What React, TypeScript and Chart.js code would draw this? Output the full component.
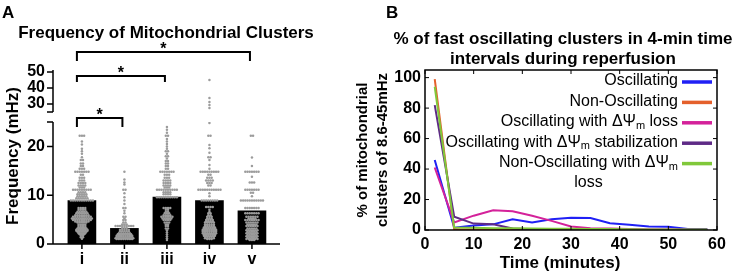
import React, { useEffect, useRef } from "react";
import { Chart, registerables } from "chart.js";

Chart.register(...registerables);

const FONT_FAMILY = "'Liberation Sans', Arial, Helvetica, sans-serif";

// ---------------- Panel A data ----------------
const groupLabels = ["i", "ii", "iii", "iv", "v"];
const groupMeans = [8.9, 3.2, 9.6, 8.9, 6.8];
// [frequency (mHz), number of clusters with that frequency]
const swarmI: [number, number][] = [
  [22.2, 3], [21, 1], [20.4, 1], [19.5, 1], [19, 1], [18.5, 1], [17.8, 1], [17.2, 2], [16.5, 2], [16, 2],
  [15.4, 3], [14.8, 7], [14.2, 2], [13.6, 3], [13, 3], [12.5, 4], [12, 4], [11.6, 3], [11.1, 9], [10.6, 4],
  [10.2, 5], [9.8, 5], [9.4, 6], [8.9, 11], [7.4, 4], [7, 4], [6.6, 5], [6.3, 6], [5.9, 7], [5.6, 9],
  [5.2, 10], [4.9, 9], [4.6, 7], [4.4, 5], [4, 4], [3.7, 4], [3.4, 4], [3.2, 5], [2.9, 6], [2.7, 6],
  [2.5, 5], [2.2, 4], [2, 3], [1.7, 2], [1.4, 2], [1.1, 1],
];
const swarmII: [number, number][] = [
  [14.8, 1], [13.2, 1], [12.6, 1], [12.2, 1], [11.1, 2], [10.4, 1], [9.6, 1], [8.9, 1], [8.2, 1], [7.4, 2],
  [6.8, 1], [6.3, 1], [5.6, 2], [5.2, 1], [4.9, 2], [4.4, 2], [4, 3], [3.7, 9], [3.3, 3], [2.9, 5],
  [2.6, 5], [2.2, 6], [2, 7], [1.7, 8], [1.5, 8], [1.2, 9], [1, 8],
];
const swarmIII: [number, number][] = [
  [24, 1], [23.4, 1], [22.8, 1], [22.2, 2], [21.5, 1], [21, 1], [20.5, 1], [20, 1], [19.5, 1], [19, 2],
  [18.5, 1], [18, 2], [17.5, 1], [17, 2], [16.5, 2], [16, 2], [15.4, 2], [14.8, 7], [14.2, 3], [13.6, 3],
  [13, 4], [12.5, 4], [12, 4], [11.6, 3], [11.1, 10], [10.6, 4], [10.2, 4], [9.6, 10], [7.4, 4], [7, 2],
  [6.6, 2], [6.3, 3], [5.9, 4], [5.6, 6], [5.2, 5], [4.9, 4], [4.4, 3], [4, 2], [3.7, 2], [3.2, 2],
  [2.8, 1], [2.4, 1], [2, 1], [1.6, 1], [1.2, 1], [0.8, 1],
];
const swarmIV: [number, number][] = [
  [45, 1], [33.8, 1], [31.3, 1], [29.4, 1], [27.5, 1],
  [24.8, 1], [22.2, 2], [20.3, 1], [19.6, 1], [18.7, 1], [17.8, 2], [17.2, 1], [16.2, 1], [15.4, 1], [14.8, 9],
  [14.2, 2], [13.6, 3], [13, 4], [12.5, 3], [12, 2], [11.1, 11], [10.4, 1], [9.8, 1], [8.9, 8], [7.6, 4],
  [7, 1], [6.6, 1], [6.3, 2], [5.9, 2], [5.6, 3], [5.2, 3], [4.9, 4], [4.6, 4], [4.4, 5], [4, 5],
  [3.7, 5], [3.4, 6], [3.2, 6], [2.9, 7], [2.7, 7], [2.5, 7], [2.2, 7], [2, 6], [1.7, 6], [1.5, 5],
  [1.2, 5], [1, 3],
];
const swarmV: [number, number][] = [
  [22.2, 2], [17.7, 1], [16, 1], [14.8, 7], [13.8, 1], [12.6, 3], [11.1, 7], [10.5, 2], [9.8, 1], [8.9, 11],
  [7.4, 7], [6.3, 7], [5.6, 6], [5.2, 4], [4.9, 7], [4.4, 6], [4, 5], [3.7, 6], [3.2, 5], [2.8, 6],
  [2.5, 5], [2.2, 6], [1.9, 5], [1.6, 6], [1.3, 5], [1, 6], [0.8, 3],
];
const swarms = [swarmI, swarmII, swarmIII, swarmIV, swarmV];
const lowerTicks = [0, 10, 20];
const upperTicks = [30, 40, 50];
const axisBreak = 25;
const upperMax = 51.3;
const comparisons: [number, number][] = [[1, 2], [1, 3], [1, 5]];
const significance = ["*", "*", "*"];

// ---------------- Panel B data ----------------
const timeMinutes = [2, 6, 10, 14, 18, 22, 26, 30, 34, 38, 42, 46, 50, 54, 58];
const oscillating = [46, 1.5, 3, 3.7, 7, 5, 7, 8, 7.8, 4.4, 3.5, 2.3, 2.2, 0.7, 0.7];
const nonOscillating = [99, 0.3, 0.3, 0.2, 0.2, 0.2, 0.1, 0.1, 0.1, 0.1, 0.1, 0.1, 0.1, 0.1, 0.1];
const oscillatingLoss = [41, 5, 9.4, 13, 12.3, 9.4, 6, 2.3, 1.1, 1, 0.6, 0.4, 0.3, 0.2, 0.2];
const oscillatingStab = [82, 8.7, 4.2, 3.7, 1, 0.5, 0.3, 0.2, 0.1, 0.1, 0, 0, 0, 0, 0];
const nonOscillatingLoss = [94, 1.6, 1.4, 1.2, 1.1, 1, 0.9, 0.8, 0.7, 0.6, 0.5, 0.4, 0.4, 0.3, 0.3];
const seriesValues = [oscillating, nonOscillating, oscillatingLoss, oscillatingStab, nonOscillatingLoss];
const seriesLabels = [
  "Oscillating",
  "Non-Oscillating",
  "Oscillating with ΔΨm loss",
  "Oscillating with ΔΨm stabilization",
  "Non-Oscillating with ΔΨm\nloss",
];
const seriesColors = ["#2020f5", "#e4602c", "#d4229a", "#5e2a86", "#80c83a"];
const timeTicks = [0, 10, 20, 30, 40, 50, 60];
const percentTicks = [0, 20, 40, 60, 80, 100];

const GRAY = "#9c9c9c";
const SWARM_STEP = 0.052;

function buildSwarm() {
  const low: { x: number; y: number }[] = [];
  const high: { x: number; y: number }[] = [];
  swarms.forEach((col, ci) => {
    col.forEach(([v, n]) => {
      for (let k = 0; k < n; k++) {
        const pt = { x: ci + 1 + (k - (n - 1) / 2) * SWARM_STEP, y: v };
        (v > axisBreak ? high : low).push(pt);
      }
    });
  });
  return { low, high };
}

function segmentsOf(line: string) {
  const segs: { t: string; sub: boolean }[] = [];
  line.split("ΔΨm").forEach((p, i) => {
    if (i > 0) {
      segs.push({ t: "ΔΨ", sub: false });
      segs.push({ t: "m", sub: true });
    }
    if (p) segs.push({ t: p, sub: false });
  });
  return segs;
}

function richWidth(ctx: CanvasRenderingContext2D, line: string, size: number, sub: number) {
  let w = 0;
  for (const s of segmentsOf(line)) {
    ctx.font = `${s.sub ? sub : size}px ${FONT_FAMILY}`;
    w += ctx.measureText(s.t).width;
  }
  return w;
}

function drawRich(ctx: CanvasRenderingContext2D, line: string, xLeft: number, y: number, size: number, sub: number) {
  let x = xLeft;
  ctx.textAlign = "left";
  ctx.textBaseline = "middle";
  for (const s of segmentsOf(line)) {
    ctx.font = `${s.sub ? sub : size}px ${FONT_FAMILY}`;
    ctx.fillText(s.t, x, s.sub ? y + 4 : y);
    x += ctx.measureText(s.t).width;
  }
}

const tickFont = { family: FONT_FAMILY, size: 16, weight: "bold" as const };

export default function App() {
  const leftRef = useRef<HTMLCanvasElement>(null);
  const rightRef = useRef<HTMLCanvasElement>(null);

  useEffect(() => {
    const { low, high } = buildSwarm();

    const panelAPlugin = {
      id: "panelA",
      afterDraw(chart: any) {
        const ctx: CanvasRenderingContext2D = chart.ctx;
        const xs = chart.scales.x;
        const yl = chart.scales.y;
        const yt = chart.scales.yTop;
        const { left: l, right: r, top } = chart.chartArea;
        ctx.save();
        ctx.fillStyle = "#000";
        ctx.strokeStyle = "#000";
        // axes (broken y axis)
        ctx.lineWidth = 1.5;
        ctx.beginPath();
        const y0 = yl.getPixelForValue(0);
        ctx.moveTo(l, y0);
        ctx.lineTo(l, yl.getPixelForValue(axisBreak));
        for (const v of [...lowerTicks, axisBreak]) {
          const py = yl.getPixelForValue(v);
          ctx.moveTo(l - 6, py);
          ctx.lineTo(l, py);
        }
        ctx.moveTo(l, yt.getPixelForValue(axisBreak));
        ctx.lineTo(l, yt.getPixelForValue(upperMax));
        for (const v of [axisBreak, ...upperTicks]) {
          const py = yt.getPixelForValue(v);
          ctx.moveTo(l - 6, py);
          ctx.lineTo(l, py);
        }
        ctx.moveTo(l - 0.75, y0);
        ctx.lineTo(r, y0);
        groupLabels.forEach((_, i) => {
          const px = xs.getPixelForValue(i + 1);
          ctx.moveTo(px, y0);
          ctx.lineTo(px, y0 + 5);
        });
        ctx.stroke();

        ctx.textBaseline = "middle";
        ctx.textAlign = "left";
        ctx.font = `bold 17px ${FONT_FAMILY}`;
        ctx.fillText("A", 2, 13);
        ctx.textAlign = "center";
        ctx.fillText("Frequency of Mitochondrial Clusters", 166, 33);
        ctx.save();
        ctx.translate(13, 156);
        ctx.rotate(-Math.PI / 2);
        ctx.fillText("Frequency (mHz)", 0, 0);
        ctx.restore();
        // significance brackets
        const levels = [top + 48, top + 6, top - 18];
        const legs = [9, 6, 9];
        ctx.lineWidth = 2;
        comparisons.forEach(([a, b], i) => {
          const x1 = xs.getPixelForValue(a) - 5;
          const x2 = xs.getPixelForValue(b) - 2;
          const y = levels[i];
          ctx.beginPath();
          ctx.moveTo(x1, y + legs[i]);
          ctx.lineTo(x1, y);
          ctx.lineTo(x2, y);
          ctx.lineTo(x2, y + legs[i]);
          ctx.stroke();
          ctx.font = `bold 16px ${FONT_FAMILY}`;
          ctx.textBaseline = "alphabetic";
          ctx.fillText(significance[i], (x1 + x2) / 2, y + 2);
        });
        ctx.restore();
      },
    };

    const yCommon = {
      type: "linear" as const,
      position: "left" as const,
      stack: "freq",
      afterFit: (s: any) => {
        s.width = 53;
      },
      grid: { display: false, drawTicks: false },
      border: { display: false },
      ticks: {
        font: tickFont,
        color: "#000",
        padding: 8,
        autoSkip: false,
        callback: (v: any) => (v === axisBreak ? "" : String(v)),
      },
    };

    const left = new Chart(leftRef.current!, {
      type: "bar",
      data: {
        datasets: [
          {
            type: "scatter",
            data: low,
            yAxisID: "y",
            backgroundColor: GRAY,
            pointRadius: 1.25,
            pointBorderWidth: 0,
            borderWidth: 0,
            order: 0,
          } as any,
          {
            type: "scatter",
            data: high,
            yAxisID: "yTop",
            backgroundColor: GRAY,
            pointRadius: 1.25,
            pointBorderWidth: 0,
            borderWidth: 0,
            order: 0,
          } as any,
          {
            type: "bar",
            data: groupMeans.map((m, i) => ({ x: i + 1, y: m })),
            yAxisID: "y",
            backgroundColor: "#000",
            barThickness: 28,
            order: 1,
          } as any,
        ],
      },
      options: {
        animation: false,
        responsive: false,
        devicePixelRatio: 1,
        layout: { padding: { top: 70, right: 70, left: 0, bottom: 0 } },
        plugins: { legend: { display: false }, tooltip: { enabled: false } },
        scales: {
          x: {
            type: "linear",
            min: 0.32,
            max: 5.66,
            offset: false,
            afterBuildTicks: (s: any) => {
              s.ticks = groupLabels.map((_, i) => ({ value: i + 1 }));
            },
            afterFit: (s: any) => {
              s.height = 30;
            },
            grid: { display: false, offset: false, drawTicks: false },
            border: { display: false },
            ticks: {
              font: tickFont,
              color: "#000",
              padding: 6,
              maxRotation: 0,
              autoSkip: false,
              callback: (v: any) => groupLabels[Math.round(v) - 1] ?? "",
            },
          },
          y: {
            ...yCommon,
            weight: 1,
            stackWeight: 122,
            min: 0,
            max: axisBreak,
            afterBuildTicks: (s: any) => {
              s.ticks = [...lowerTicks, axisBreak].map((v) => ({ value: v }));
            },
          },
          gap: {
            type: "linear",
            position: "left",
            stack: "freq",
            weight: 2,
            stackWeight: 10,
            afterFit: (s: any) => {
              s.width = 53;
            },
            grid: { display: false, drawTicks: false },
            border: { display: false },
            ticks: { display: false },
          },
          yTop: {
            ...yCommon,
            weight: 3,
            stackWeight: 42,
            min: axisBreak,
            max: upperMax,
            afterBuildTicks: (s: any) => {
              s.ticks = [axisBreak, ...upperTicks].map((v) => ({ value: v }));
            },
          },
        } as any,
      },
      plugins: [panelAPlugin],
    });

    const panelBPlugin = {
      id: "panelB",
      afterDraw(chart: any) {
        const ctx: CanvasRenderingContext2D = chart.ctx;
        const { left: l, right: r, top: t, bottom: b } = chart.chartArea;
        const xs = chart.scales.x;
        const ys = chart.scales.y;
        ctx.save();
        ctx.strokeStyle = "#000";
        ctx.lineWidth = 1.5;
        ctx.strokeRect(l, t, r - l, b - t);
        ctx.lineWidth = 1;
        ctx.beginPath();
        for (const v of timeTicks) {
          const px = xs.getPixelForValue(v);
          ctx.moveTo(px, b);
          ctx.lineTo(px, b - 4);
          ctx.moveTo(px, t);
          ctx.lineTo(px, t + 4);
        }
        for (const v of percentTicks) {
          const py = ys.getPixelForValue(v);
          ctx.moveTo(l, py);
          ctx.lineTo(l + 4, py);
          ctx.moveTo(r, py);
          ctx.lineTo(r - 4, py);
        }
        ctx.stroke();

        ctx.fillStyle = "#000";
        ctx.textAlign = "left";
        ctx.textBaseline = "middle";
        ctx.font = `bold 17px ${FONT_FAMILY}`;
        ctx.fillText("B", 36, 13);
        ctx.textAlign = "center";
        const cx = (l + r) / 2 - 8;
        ctx.fillText("% of fast oscillating clusters in 4-min time", cx, 39);
        ctx.fillText("intervals during reperfusion", cx, 59);
        ctx.fillText("Time (minutes)", cx - 3, 263);
        ctx.save();
        ctx.font = `bold 15px ${FONT_FAMILY}`;
        ctx.translate(13, (t + b) / 2);
        ctx.rotate(-Math.PI / 2);
        ctx.fillText("% of mitochondrial", 0, 0);
        ctx.fillText("clusters of 8.6-45mHz", 0, 20);
        ctx.restore();

        // legend
        const textRight = r - 39;
        let y = t + 11;
        chart.data.datasets.forEach((ds: any) => {
          const lines = String(ds.label).split("\n");
          const widths = lines.map((ln) => richWidth(ctx, ln, 16, 11));
          const maxW = Math.max(...widths);
          ctx.fillStyle = "#000";
          lines.forEach((ln, li) => {
            const xLeft = lines.length > 1 ? textRight - maxW / 2 - widths[li] / 2 : textRight - widths[li];
            drawRich(ctx, ln, xLeft, y + li * 20.4, 16, 11);
          });
          ctx.strokeStyle = ds.borderColor;
          ctx.lineWidth = 3.5;
          ctx.beginPath();
          ctx.moveTo(r - 35, y + 1);
          ctx.lineTo(r - 5, y + 1);
          ctx.stroke();
          y += 20.4 * lines.length;
        });
        ctx.restore();
      },
    };

    const right = new Chart(rightRef.current!, {
      type: "line",
      data: {
        datasets: seriesValues.map((vals, i) => ({
          label: seriesLabels[i],
          data: timeMinutes.map((tm, k) => ({ x: tm, y: vals[k] })),
          borderColor: seriesColors[i],
          backgroundColor: seriesColors[i],
          borderWidth: 2,
          pointRadius: 0,
          tension: 0,
          fill: false,
          order: [4, 3, 2, 1, 0][i],
        })),
      },
      options: {
        animation: false,
        responsive: false,
        devicePixelRatio: 1,
        layout: { padding: { top: 70, right: 19, left: 0, bottom: 0 } },
        plugins: { legend: { display: false }, tooltip: { enabled: false } },
        scales: {
          x: {
            type: "linear",
            min: 0,
            max: 60,
            afterBuildTicks: (s: any) => {
              s.ticks = timeTicks.map((v) => ({ value: v }));
            },
            afterFit: (s: any) => {
              s.height = 44;
            },
            grid: { display: false, drawTicks: false },
            border: { display: false },
            ticks: { font: tickFont, color: "#000", padding: 5, maxRotation: 0, autoSkip: false },
          },
          y: {
            type: "linear",
            min: 0,
            max: 105,
            afterBuildTicks: (s: any) => {
              s.ticks = percentTicks.map((v) => ({ value: v }));
            },
            afterFit: (s: any) => {
              s.width = 75;
            },
            grid: { display: false, drawTicks: false },
            border: { display: false },
            ticks: { font: tickFont, color: "#000", padding: 4, autoSkip: false },
          },
        },
      },
      plugins: [panelBPlugin],
    });

    return () => {
      left.destroy();
      right.destroy();
    };
  }, []);

  return (
    <div style={{ position: "fixed", left: 0, top: 0, width: 736, height: 274, background: "#fff" }}>
      <canvas ref={leftRef} width={350} height={274} style={{ position: "absolute", left: 0, top: 0 }} />
      <canvas ref={rightRef} width={386} height={274} style={{ position: "absolute", left: 350, top: 0 }} />
    </div>
  );
}
